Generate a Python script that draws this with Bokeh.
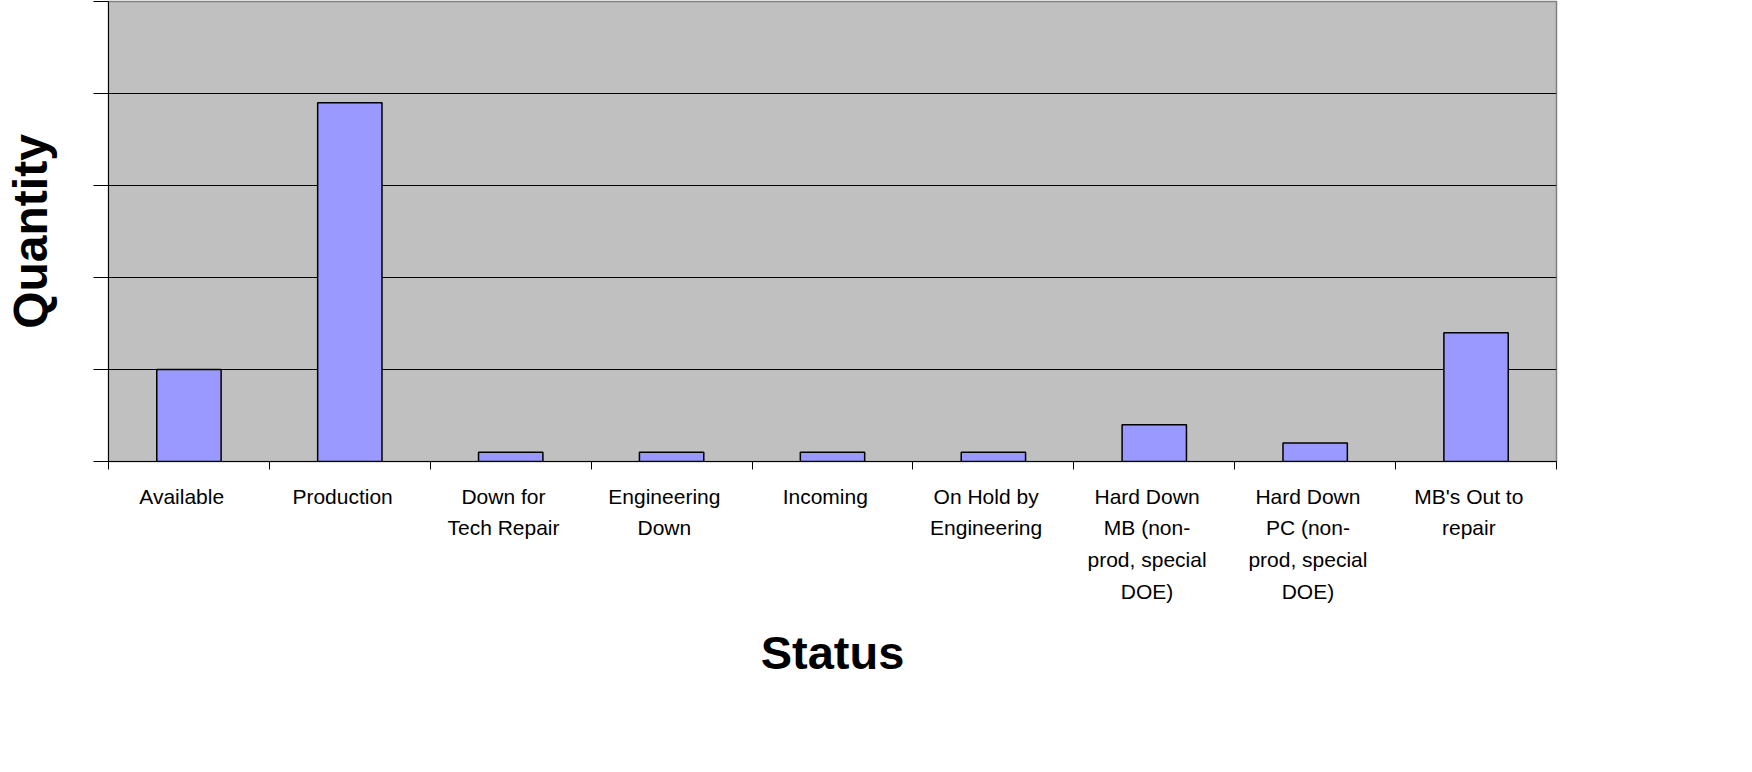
from bokeh.plotting import figure
from bokeh.models import Range1d, FixedTicker, ColumnDataSource, LinearAxis
from bokeh.embed import file_html
from bokeh.resources import INLINE

categories = ["Available", "Production", "Down for Tech Repair", "Engineering Down",
              "Incoming", "On Hold by Engineering",
              "Hard Down MB (non-prod, special DOE)",
              "Hard Down PC (non-prod, special DOE)", "MB's Out to repair"]
tick_labels = ["Available", "Production", "Down for\nTech Repair", "Engineering\nDown",
               "Incoming", "On Hold by\nEngineering",
               "Hard Down\nMB (non-\nprod, special\nDOE)",
               "Hard Down\nPC (non-\nprod, special\nDOE)", "MB's Out to\nrepair"]
quantity = [10, 39, 1, 1, 1, 1, 4, 2, 14]
y_ticks = [0, 10, 20, 30, 40, 50]

n = len(categories)
centers = [i + 0.5 for i in range(n)]
src = ColumnDataSource(dict(x=centers, q=quantity, cat=categories))

p = figure(x_range=Range1d(0, n), y_range=Range1d(0, 50), width=1566, height=700,
           output_backend="svg", toolbar_location=None, x_axis_location=None,
           min_border_left=107, min_border_right=10, min_border_top=1, min_border_bottom=239)

p.vbar(x="x", top="q", width=0.4, source=src, fill_color="#9999FF",
       line_color="black", line_width=1.5)

p.background_fill_color = "#C0C0C0"
p.border_fill_color = "white"
p.outline_line_color = "#808080"
p.outline_line_width = 1.5

p.xgrid.grid_line_color = None
p.ygrid.grid_line_color = "black"
p.ygrid.grid_line_width = 1

p.yaxis.ticker = FixedTicker(ticks=y_ticks)
p.yaxis.major_label_text_font_size = "0px"
p.yaxis.major_label_standoff = 0
p.yaxis.major_tick_out = 15
p.yaxis.major_tick_in = 0
p.yaxis.minor_tick_line_color = None
p.yaxis.axis_line_color = "black"
p.yaxis.axis_label = "Quantity"
p.yaxis.axis_label_text_font = "Liberation Sans"
p.yaxis.axis_label_text_font_style = "bold"
p.yaxis.axis_label_text_font_size = "48px"
p.yaxis.axis_label_text_color = "black"
p.yaxis.axis_label_standoff = 37

# axis line with category boundary ticks
bax = LinearAxis(ticker=FixedTicker(ticks=list(range(n + 1))),
                 major_label_text_font_size="0px", major_label_standoff=0,
                 major_tick_out=8, major_tick_in=0,
                 minor_tick_line_color=None, axis_line_color="black")
p.add_layout(bax, "below")

# category labels (slightly left of centre, as in the original)
p.extra_x_ranges = {"lbl": Range1d(0.045, n + 0.045)}
lax = LinearAxis(x_range_name="lbl", ticker=FixedTicker(ticks=centers),
                 major_label_overrides={c: t for c, t in zip(centers, tick_labels)},
                 major_label_text_font="Liberation Sans",
                 major_label_text_font_size="21px",
                 major_label_text_color="black",
                 major_label_text_line_height=1.38,
                 major_label_standoff=9,
                 major_tick_line_color=None, minor_tick_line_color=None,
                 axis_line_color=None,
                 axis_label="Status", axis_label_text_font="Liberation Sans",
                 axis_label_text_font_style="bold", axis_label_text_font_size="47px",
                 axis_label_text_color="black",
                 axis_label_standoff=20)
p.add_layout(lax, "below")

open("out.html", "w").write(file_html(p, INLINE))
